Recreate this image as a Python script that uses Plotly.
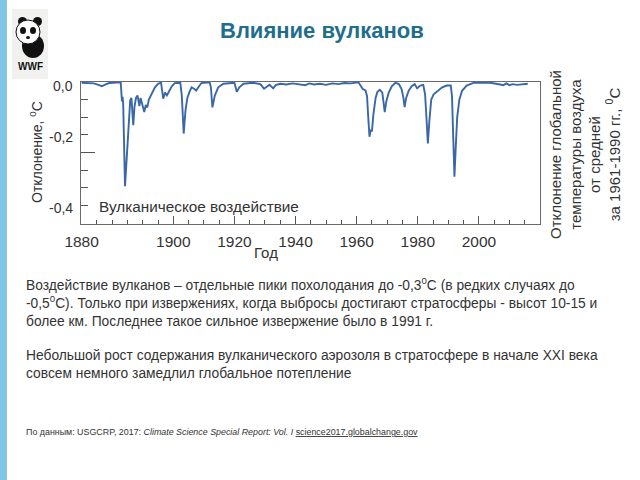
import plotly.graph_objects as go

# ---- data ----
years = [1870.0, 1872, 1874, 1875.5, 1876.6, 1877.5, 1879, 1882.8, 1883.0, 1883.2, 1883.4, 1883.6,
         1884.2, 1884.8, 1885.4, 1885.9, 1886.3, 1886.9, 1887.3, 1887.8, 1888.3, 1888.9, 1889.3,
         1889.8, 1890.5, 1891.0, 1891.5, 1892.0, 1893.0, 1894.0, 1895.0, 1896.0, 1896.7, 1897.3,
         1897.9, 1898.5, 1899.5, 1900.5, 1902.3, 1902.8, 1903.4, 1904.0, 1904.6, 1905.3, 1906.0,
         1906.8, 1907.5, 1908.2, 1909.2, 1911.9, 1912.3, 1912.8, 1913.6, 1914.7, 1916.4, 1920.0,
         1920.8, 1921.6, 1923.0, 1926.0, 1928.5, 1929.7, 1930.5, 1931.5, 1932.7, 1933.5, 1935,
         1937, 1939, 1941, 1943.2, 1944.5, 1946, 1948, 1950, 1952, 1954, 1956, 1958, 1960.6,
         1961.3, 1962.0, 1962.9, 1963.4, 1963.8, 1964.2, 1964.6, 1965.0, 1965.5, 1966.2, 1966.8,
         1967.6, 1968.4, 1968.8, 1969.2, 1969.7, 1970.5, 1971.5, 1972.7, 1973.8, 1974.7, 1975.3,
         1975.7, 1976.2, 1977.0, 1978.0, 1979.0, 1979.8, 1980.8, 1981.8, 1982.4, 1982.9, 1983.3,
         1983.8, 1984.4, 1985.2, 1986.5, 1988.0, 1989.5, 1990.8, 1991.2, 1991.6, 1992.0, 1992.4,
         1992.9, 1993.6, 1994.5, 1996.0, 1998.4, 2003.7, 2005.5, 2007, 2008, 2009, 2010, 2011,
         2012.5, 2014, 2016]
forcing = [-0.002, -0.003, -0.004, -0.008, -0.012, -0.008, -0.003, -0.001, -0.040, -0.055, -0.042, -0.060,
           -0.295, -0.200, -0.100, -0.052, -0.045, -0.122, -0.070, -0.045, -0.038, -0.068, -0.045,
           -0.060, -0.085, -0.065, -0.072, -0.050, -0.030, -0.015, -0.005, -0.002, -0.047, -0.030,
           -0.038, -0.028, -0.012, -0.003, -0.002, -0.040, -0.146, -0.080, -0.045, -0.028, -0.015,
           -0.019, -0.024, -0.015, -0.003, -0.001, -0.015, -0.072, -0.038, -0.015, -0.005, -0.002,
           -0.028, -0.015, -0.005, -0.002, -0.006, -0.019, -0.014, -0.008, -0.018, -0.009, -0.005,
           -0.007, -0.004, -0.007, -0.009, -0.004, -0.007, -0.005, -0.008, -0.004, -0.006, -0.003, -0.004, -0.001,
           -0.012, -0.020, -0.024, -0.040, -0.100, -0.155, -0.135, -0.140, -0.090, -0.045, -0.028,
           -0.022, -0.030, -0.055, -0.085, -0.055, -0.030, -0.012, -0.002, -0.006, -0.020, -0.045,
           -0.071, -0.045, -0.025, -0.012, -0.006, -0.018, -0.010, -0.008, -0.035, -0.110, -0.174,
           -0.110, -0.050, -0.035, -0.025, -0.015, -0.010, -0.010, -0.040, -0.160, -0.268, -0.190,
           -0.100, -0.050, -0.025, -0.010, -0.002, -0.002, -0.004, -0.007, -0.009, -0.004, -0.009, -0.006,
           -0.008, -0.006, -0.005]

x_tick_vals = [1870, 1900, 1920, 1940, 1960, 1980, 2000]
x_tick_text = ["1880", "1900", "1920", "1940", "1960", "1980", "2000"]
y_label_vals = [-0.011, -0.156, -0.357]
y_label_text = ["0,0", "-0,2", "-0,4"]

W, H = 640, 480
L, R, T, B = 81, 100, 82, 256
PW, PH = W - L - R, H - T - B


def px(x):
    return (x - L) / PW


def py(y):
    return (H - B - y) / PH


fig = go.Figure()
fig.add_trace(go.Scatter(x=years, y=forcing, mode="lines",
                         line=dict(color="#3a67a6", width=1.9), hoverinfo="skip",
                         showlegend=False))

font = "Liberation Sans, Arial, sans-serif"

fig.update_xaxes(range=[1869.8, 2020.0], showgrid=False, zeroline=False,
                 showline=True, linecolor="#6a6a6a", linewidth=1, mirror=True,
                 ticks="inside", ticklen=8, tickcolor="#555", tickvals=x_tick_vals,
                 ticktext=x_tick_text, ticklabelstandoff=3,
                 tickfont=dict(family=font, size=15.5, color="#333"),
                 minor=dict(dtick=5, tick0=1870, ticks="inside", ticklen=4, tickcolor="#555"))
fig.update_yaxes(range=[-0.402, 0.0], showgrid=False, zeroline=False,
                 showline=True, linecolor="#6a6a6a", linewidth=1, mirror=True,
                 ticks="inside", ticklen=14, tickcolor="#555", tickvals=[0, -0.2, -0.4],
                 showticklabels=False,
                 minor=dict(dtick=0.05, tick0=0, ticks="inside", ticklen=7, tickcolor="#555"))


def A(x, y, text, size=14, xanchor="center", yanchor="middle", **kw):
    d = dict(x=px(x), y=py(y), xref="paper", yref="paper", text=text, showarrow=False,
             xanchor=xanchor, yanchor=yanchor,
             font=dict(family=font, size=size, color=kw.pop("color", "#333")))
    d.update(kw)
    return d


ann = []
for v, t in zip(y_label_vals, y_label_text):
    ann.append(dict(x=px(75), y=v, xref="paper", yref="y", text=t, showarrow=False,
                    xanchor="right", yanchor="middle", font=dict(family=font, size=14, color="#333")))

ann += [
    A(36, 152, "Отклонение, <sup>0</sup>C", 14, textangle=-90),
    A(97, 206, "Вулканическое воздействие", 15.3, xanchor="left"),
    A(266, 252, "Год", 15),
    A(585, 155, "Отклонение глобальной<br>температуры воздуха<br>от средней<br>за 1961-1990 гг., <sup>0</sup>C",
      15, textangle=-90, align="center"),
    A(322, 30, "<b>Влияние вулканов</b>", 22, color="#1f6e8e"),
    A(24, 302, ("Воздействие вулканов – отдельные пики похолодания до -0,3<sup>0</sup>C (в редких случаях до<br>"
                "-0,5<sup>0</sup>C). Только при извержениях, когда выбросы достигают стратосферы - высот 10-15 и<br>"
                "более км. Последнее такое сильное извержение было в 1991 г."),
      13.8, xanchor="left", align="left"),
    A(24, 364, ("Небольшой рост содержания вулканического аэрозоля в стратосфере в начале XXI века<br>"
                "совсем немного замедлил глобальное потепление"),
      13.8, xanchor="left", align="left"),
    A(24, 432, ("По данным: USGCRP, 2017: <i>Climate Science Special Report: Vol. I</i> "
                "<u>science2017.globalchange.gov</u>"), 8.9, xanchor="left"),
    A(30.5, 67, "<b>WWF</b>", 10, color="#111"),
]

shapes = [
    dict(type="rect", xref="paper", yref="paper", x0=px(0), x1=px(7), y0=py(0), y1=py(480),
         fillcolor="#7fc6e6", line=dict(width=0), layer="below"),
    dict(type="rect", xref="paper", yref="paper", x0=px(12), x1=px(48), y0=py(9), y1=py(79),
         fillcolor="#f1f1ef", line=dict(width=0), layer="below"),
    # simple panda logo
    dict(type="circle", xref="paper", yref="paper", x0=px(22), x1=px(44), y0=py(34), y1=py(58),
         fillcolor="#111", line=dict(width=0)),
    dict(type="circle", xref="paper", yref="paper", x0=px(18), x1=px(27), y0=py(17), y1=py(26),
         fillcolor="#111", line=dict(width=0)),
    dict(type="circle", xref="paper", yref="paper", x0=px(33), x1=px(42), y0=py(17), y1=py(26),
         fillcolor="#111", line=dict(width=0)),
    dict(type="circle", xref="paper", yref="paper", x0=px(16), x1=px(40), y0=py(20), y1=py(44),
         fillcolor="#fafafa", line=dict(color="#111", width=1)),
    dict(type="circle", xref="paper", yref="paper", x0=px(20), x1=px(26), y0=py(27), y1=py(34),
         fillcolor="#111", line=dict(width=0)),
    dict(type="circle", xref="paper", yref="paper", x0=px(30), x1=px(36), y0=py(27), y1=py(34),
         fillcolor="#111", line=dict(width=0)),
    dict(type="circle", xref="paper", yref="paper", x0=px(26), x1=px(30), y0=py(36), y1=py(39),
         fillcolor="#111", line=dict(width=0)),
]

fig.update_layout(width=W, height=H, margin=dict(l=L, r=R, t=T, b=B),
                  paper_bgcolor="white", plot_bgcolor="white",
                  annotations=ann, shapes=shapes, showlegend=False)

fig.write_html("out.html", config={"displayModeBar": False},
               post_script="document.body.style.margin='0px';")
